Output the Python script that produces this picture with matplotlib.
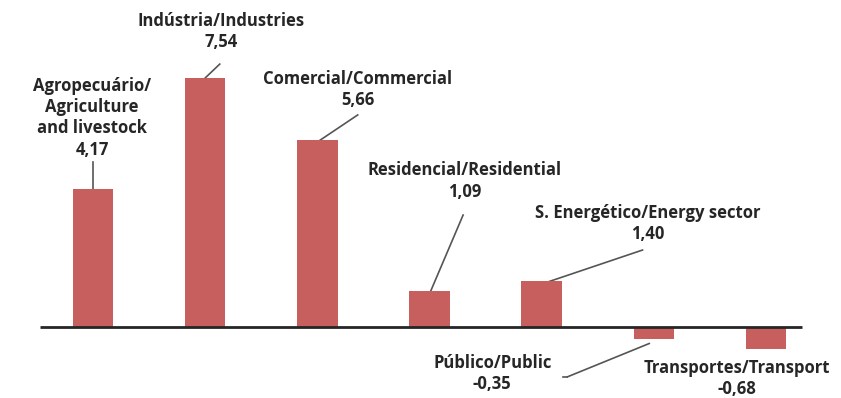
import matplotlib.pyplot as plt
import numpy as np

# Variação do consumo por setor (%)
setores = ["Agropecuário/\nAgriculture\nand livestock", "Indústria/Industries",
           "Comercial/Commercial", "Residencial/Residential",
           "S. Energético/Energy sector", "Público/Public", "Transportes/Transport"]
valores = [4.17, 7.54, 5.66, 1.09, 1.40, -0.35, -0.68]
rotulos = ["4,17", "7,54", "5,66", "1,09", "1,40", "-0,35", "-0,68"]

# posição do texto (x, y em dados) e ponta da linha guia
pos_texto = [(-0.01, 6.33), (1.14, 8.96), (2.36, 7.18), (3.31, 4.42), (4.95, 3.12), (3.56, -1.42), (5.74, -1.57)]
guia = [((0, 4.17), (0, 5.0)), ((1.0, 7.54), (1.13, 7.96)), ((2.0, 5.6), (2.36, 6.42)),
        ((3.0, 1.0), (3.3, 3.39)), ((4.0, 1.3), (4.9, 2.33)), ((4.96, -0.5), (4.23, -1.51))]

fig = plt.figure(figsize=(8.41, 3.98), dpi=100)
ax = fig.add_axes([0, 0, 1, 1])
x = np.arange(len(valores))

ax.bar(x, valores, width=0.36, color="#c75f5e", zorder=2)
ax.hlines(0, -0.47, 6.32, color="#262626", linewidth=2, zorder=3)

for (x0, y0), (x1, y1) in guia:
    ax.plot([x0, x1], [y0, y1], color="#555555", linewidth=1.2, zorder=1)
# gancho da guia do setor público
ax.plot([4.23, 4.19], [-1.51, -1.51], color="#555555", linewidth=1.2)

for nome, rot, (tx, ty) in zip(setores, rotulos, pos_texto):
    ax.text(tx, ty, nome + "\n" + rot, ha="center", va="center", fontsize=12,
            fontweight="bold", family="Open Sans", color="#262626", linespacing=1.22)

ax.set_xlim(-0.83, 6.67)
ax.set_ylim(-2.15, 9.9)
ax.axis("off")

fig.savefig("out.png", dpi=100)
